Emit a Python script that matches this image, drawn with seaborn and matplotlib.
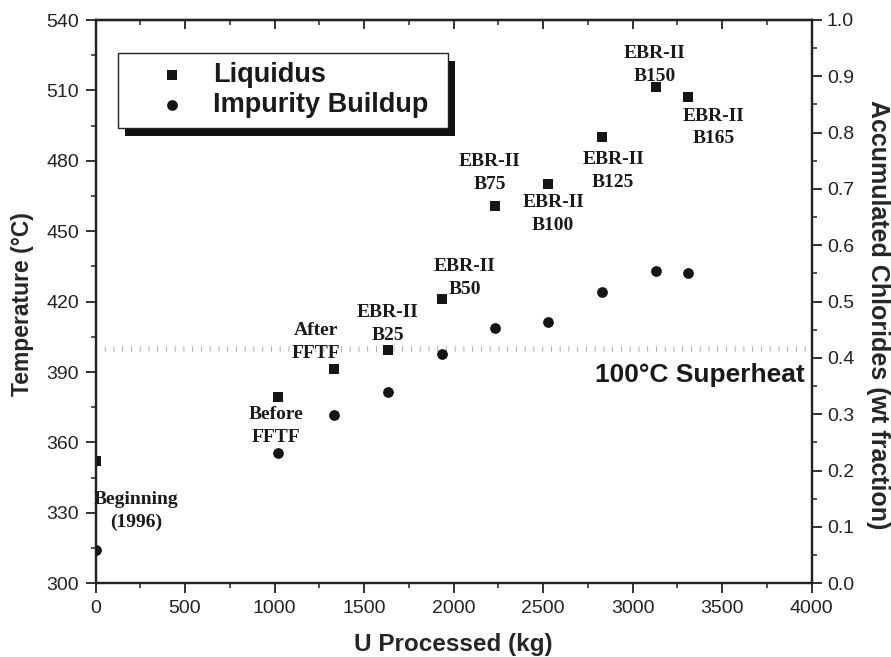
import matplotlib
matplotlib.use("Agg")
import matplotlib.pyplot as plt
from matplotlib.patches import Rectangle
from matplotlib.ticker import MultipleLocator
import numpy as np
import pandas as pd
import seaborn as sns

# Uranium processed (kg) at each sampling point
u_processed = [5, 1020, 1330, 1632, 1933, 2230, 2528, 2830, 3130, 3307]
# Liquidus temperature of the salt (deg C)
liquidus = [352, 379.5, 391.2, 399.5, 421.3, 460.6, 470.0, 490.2, 511.6, 507.0]
# Accumulated chlorides (weight fraction)
impurity = [0.060, 0.232, 0.298, 0.339, 0.407, 0.453, 0.463, 0.518, 0.555, 0.551]
# Campaign labels for the liquidus points
point_labels = ["Beginning\n(1996)", "Before\nFFTF", "After\nFFTF", "EBR-II\nB25",
                "EBR-II\nB50", "EBR-II\nB75", "EBR-II\nB100", "EBR-II\nB125",
                "EBR-II\nB150", "EBR-II\nB165"]
superheat_temp = 400
superheat_label = "100\u00b0C Superheat"

df = pd.DataFrame({"u": u_processed, "liq": liquidus, "imp": impurity})

sns.set_style("ticks")
plt.rcParams["font.family"] = ["Liberation Sans", "DejaVu Sans"]
plt.rcParams["axes.linewidth"] = 1.6
plt.rcParams["text.color"] = "#1a1a1a"

W, H = 891, 657
fig = plt.figure(figsize=(W / 100, H / 100), dpi=100)
x0, x1, y0, y1 = 95.5, 811.7, 20.0, 583.3
ax = fig.add_axes([x0 / W, 1 - y1 / H, (x1 - x0) / W, (y1 - y0) / H])
ax2 = ax.twinx()

ink = "#151515"
sns.scatterplot(data=df, x="u", y="liq", ax=ax, marker="s", s=48, color=ink,
                edgecolor=ink, linewidth=0, label="Liquidus", legend=False, zorder=3)
sns.scatterplot(data=df, x="u", y="imp", ax=ax2, marker="o", s=60, color=ink,
                edgecolor=ink, linewidth=0, label="Impurity Buildup", legend=False, zorder=3)

ax.set_xlim(0, 4000)
ax.set_ylim(300, 540)
ax2.set_ylim(0, 1.0)
ax.xaxis.set_major_locator(MultipleLocator(500))
ax.xaxis.set_minor_locator(MultipleLocator(250))
ax.yaxis.set_major_locator(MultipleLocator(30))
ax.yaxis.set_minor_locator(MultipleLocator(15))
ax2.yaxis.set_major_locator(MultipleLocator(0.1))
ax2.yaxis.set_minor_locator(MultipleLocator(0.05))
ax2.yaxis.set_major_formatter(plt.FuncFormatter(lambda v, p: f"{v:.1f}"))

for a in (ax, ax2):
    for sp in a.spines.values():
        sp.set_visible(True)
        sp.set_color("#222222")
        sp.set_linewidth(1.6)
ax.tick_params(axis="both", which="major", direction="out", length=7, width=1.3,
               labelsize=14, colors="#222222", pad=5)
ax.tick_params(axis="both", which="minor", direction="out", length=3.5, width=1.1,
               colors="#222222")
ax.tick_params(axis="x", top=False)
ax2.tick_params(axis="y", which="major", direction="out", length=7, width=1.3,
                labelsize=14, colors="#222222", pad=4)
ax2.tick_params(axis="y", which="minor", direction="out", length=3.5, width=1.1,
                colors="#222222")

# inward ticks along the top edge
top = ax.secondary_xaxis("top")
top.xaxis.set_major_locator(MultipleLocator(500))
top.xaxis.set_minor_locator(MultipleLocator(250))
top.tick_params(axis="x", which="major", direction="in", length=6.5, width=1.3,
                labeltop=False, colors="#222222")
top.tick_params(axis="x", which="minor", direction="in", length=3.5, width=1.1,
                colors="#222222")
top.spines["top"].set_linewidth(1.6)

# superheat reference line
ax.axhline(superheat_temp, color="#a8a8a8", lw=4.2, dashes=(0.15, 1.35), zorder=1)
ax.annotate(superheat_label, xy=(1, superheat_temp),
            xycoords=ax.get_yaxis_transform(), xytext=(-7, -26),
            textcoords="offset pixels", ha="right", va="center",
            fontsize=19, fontweight="bold")

# campaign labels
offsets = [(40, -50), (-2, -29), (-18, 27), (0, 26), (23, 21), (-5, 33),
           (5, -30), (11, -34), (-1, 22), (26, -30)]
for xv, yv, lab, (dx, dy) in zip(u_processed, liquidus, point_labels, offsets):
    ax.annotate(lab, xy=(xv, yv), xytext=(dx, dy), textcoords="offset pixels",
                ha="center", va="center", multialignment="center",
                fontsize=14, fontweight="bold", family="Liberation Serif",
                linespacing=1.45, color="#1a1a1a")

# axis titles
ax.set_xlabel("U Processed (kg)", fontsize=17.5, fontweight="bold")
ax.set_ylabel("Temperature (\u00b0C)", fontsize=16.5, fontweight="bold")
ax2.set_ylabel("Accumulated Chlorides (wt fraction)", fontsize=18,
               fontweight="bold", rotation=270)
for lab in (ax.xaxis.label, ax.yaxis.label, ax2.yaxis.label):
    lab.set_va("center")
    lab.set_ha("center")
aw, ah = x1 - x0, y1 - y0
ax.xaxis.set_label_coords(((x0 + x1) / 2 - x0) / aw, (y1 - 645) / ah)
ax.yaxis.set_label_coords((23 - x0) / aw, (y1 - 304) / ah)
ax2.yaxis.set_label_coords((877.5 - x0) / aw, (y1 - 315) / ah)

# legend with a dropped black shadow
bx0, by0, bx1, by1 = 118.3, 53.3, 448.3, 128.3
fig.add_artist(Rectangle((bx0 / W + 7 / W, 1 - (by1 + 8) / H), (bx1 - bx0) / W,
                         (by1 - by0) / H, transform=fig.transFigure,
                         facecolor="#111111", edgecolor="none", zorder=3))
fig.add_artist(Rectangle((bx0 / W, 1 - by1 / H), (bx1 - bx0) / W, (by1 - by0) / H,
                         transform=fig.transFigure, facecolor="white",
                         edgecolor="#222222", linewidth=1.0, zorder=4))
handles = ax.collections[:1] + ax2.collections[:1]
leg = fig.legend(handles, ["Liquidus", "Impurity Buildup"], loc="upper left",
                 bbox_to_anchor=(158.2 / W, 1 - 62.5 / H), frameon=False,
                 borderpad=0, borderaxespad=0, handlelength=1.0,
                 handletextpad=1.03, labelspacing=0.12,
                 prop={"family": "Liberation Sans", "weight": "bold", "size": 19.5})
leg.set_zorder(5)

fig.savefig("out.png", dpi=100)
